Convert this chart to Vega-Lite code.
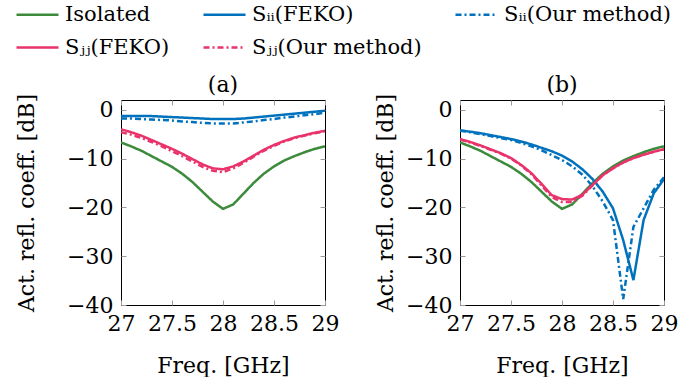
{
  "$schema": "https://vega.github.io/schema/vega-lite/v6.json",
  "background": "white",
  "padding": {"left": 15, "top": -8, "right": 0, "bottom": 0},
  "config": {
    "font": "DejaVu Serif",
    "view": {"stroke": "black", "strokeWidth": 1},
    "title": {"fontSize": 22, "fontWeight": "normal", "font": "DejaVu Serif", "offset": -4, "color": "black"},
    "axis": {"labelFontSize": 22, "titleFontSize": 22, "titleFontWeight": "normal", "labelColor": "black", "titleColor": "black", "domain": false, "grid": false, "tickColor": "#9a9a9a", "tickSize": -5, "labelPadding": 13, "labelOverlap": false, "labelFlush": false, "labelFont": "DejaVu Serif", "titleFont": "DejaVu Serif"},
    "axisX": {"titlePadding": 21},
    "axisY": {"titlePadding": 28}
  },
  "datasets": {
    "d": [
      {"p":"a","s":"Isolated","f":27.0,"v":-6.7},{"p":"a","s":"Isolated","f":27.1,"v":-7.5},{"p":"a","s":"Isolated","f":27.2,"v":-8.4},{"p":"a","s":"Isolated","f":27.3,"v":-9.5},{"p":"a","s":"Isolated","f":27.4,"v":-10.6},{"p":"a","s":"Isolated","f":27.5,"v":-11.7},{"p":"a","s":"Isolated","f":27.6,"v":-13.1},{"p":"a","s":"Isolated","f":27.7,"v":-14.8},{"p":"a","s":"Isolated","f":27.8,"v":-16.8},{"p":"a","s":"Isolated","f":27.9,"v":-18.8},{"p":"a","s":"Isolated","f":28.0,"v":-20.3},{"p":"a","s":"Isolated","f":28.1,"v":-19.4},{"p":"a","s":"Isolated","f":28.2,"v":-17.2},{"p":"a","s":"Isolated","f":28.3,"v":-15.0},{"p":"a","s":"Isolated","f":28.4,"v":-13.1},{"p":"a","s":"Isolated","f":28.5,"v":-11.6},{"p":"a","s":"Isolated","f":28.6,"v":-10.4},{"p":"a","s":"Isolated","f":28.7,"v":-9.5},{"p":"a","s":"Isolated","f":28.8,"v":-8.7},{"p":"a","s":"Isolated","f":28.9,"v":-8.0},{"p":"a","s":"Isolated","f":29.0,"v":-7.5},
      {"p":"a","s":"Sᵢᵢ(FEKO)","f":27.0,"v":-1.3},{"p":"a","s":"Sᵢᵢ(FEKO)","f":27.1,"v":-1.3},{"p":"a","s":"Sᵢᵢ(FEKO)","f":27.2,"v":-1.3},{"p":"a","s":"Sᵢᵢ(FEKO)","f":27.3,"v":-1.3},{"p":"a","s":"Sᵢᵢ(FEKO)","f":27.4,"v":-1.4},{"p":"a","s":"Sᵢᵢ(FEKO)","f":27.5,"v":-1.5},{"p":"a","s":"Sᵢᵢ(FEKO)","f":27.6,"v":-1.6},{"p":"a","s":"Sᵢᵢ(FEKO)","f":27.7,"v":-1.7},{"p":"a","s":"Sᵢᵢ(FEKO)","f":27.8,"v":-1.8},{"p":"a","s":"Sᵢᵢ(FEKO)","f":27.9,"v":-1.9},{"p":"a","s":"Sᵢᵢ(FEKO)","f":28.0,"v":-1.9},{"p":"a","s":"Sᵢᵢ(FEKO)","f":28.1,"v":-1.9},{"p":"a","s":"Sᵢᵢ(FEKO)","f":28.2,"v":-1.8},{"p":"a","s":"Sᵢᵢ(FEKO)","f":28.3,"v":-1.6},{"p":"a","s":"Sᵢᵢ(FEKO)","f":28.4,"v":-1.4},{"p":"a","s":"Sᵢᵢ(FEKO)","f":28.5,"v":-1.2},{"p":"a","s":"Sᵢᵢ(FEKO)","f":28.6,"v":-1.0},{"p":"a","s":"Sᵢᵢ(FEKO)","f":28.7,"v":-0.8},{"p":"a","s":"Sᵢᵢ(FEKO)","f":28.8,"v":-0.6},{"p":"a","s":"Sᵢᵢ(FEKO)","f":28.9,"v":-0.4},{"p":"a","s":"Sᵢᵢ(FEKO)","f":29.0,"v":-0.2},
      {"p":"a","s":"Sᵢᵢ(Our method)","f":27.0,"v":-1.8},{"p":"a","s":"Sᵢᵢ(Our method)","f":27.1,"v":-1.8},{"p":"a","s":"Sᵢᵢ(Our method)","f":27.2,"v":-1.9},{"p":"a","s":"Sᵢᵢ(Our method)","f":27.3,"v":-2.0},{"p":"a","s":"Sᵢᵢ(Our method)","f":27.4,"v":-2.1},{"p":"a","s":"Sᵢᵢ(Our method)","f":27.5,"v":-2.2},{"p":"a","s":"Sᵢᵢ(Our method)","f":27.6,"v":-2.4},{"p":"a","s":"Sᵢᵢ(Our method)","f":27.7,"v":-2.5},{"p":"a","s":"Sᵢᵢ(Our method)","f":27.8,"v":-2.7},{"p":"a","s":"Sᵢᵢ(Our method)","f":27.9,"v":-2.8},{"p":"a","s":"Sᵢᵢ(Our method)","f":28.0,"v":-2.8},{"p":"a","s":"Sᵢᵢ(Our method)","f":28.1,"v":-2.8},{"p":"a","s":"Sᵢᵢ(Our method)","f":28.2,"v":-2.6},{"p":"a","s":"Sᵢᵢ(Our method)","f":28.3,"v":-2.4},{"p":"a","s":"Sᵢᵢ(Our method)","f":28.4,"v":-2.1},{"p":"a","s":"Sᵢᵢ(Our method)","f":28.5,"v":-1.9},{"p":"a","s":"Sᵢᵢ(Our method)","f":28.6,"v":-1.6},{"p":"a","s":"Sᵢᵢ(Our method)","f":28.7,"v":-1.4},{"p":"a","s":"Sᵢᵢ(Our method)","f":28.8,"v":-1.1},{"p":"a","s":"Sᵢᵢ(Our method)","f":28.9,"v":-0.9},{"p":"a","s":"Sᵢᵢ(Our method)","f":29.0,"v":-0.6},
      {"p":"a","s":"Sⱼⱼ(FEKO)","f":27.0,"v":-4.0},{"p":"a","s":"Sⱼⱼ(FEKO)","f":27.1,"v":-4.6},{"p":"a","s":"Sⱼⱼ(FEKO)","f":27.2,"v":-5.3},{"p":"a","s":"Sⱼⱼ(FEKO)","f":27.3,"v":-6.2},{"p":"a","s":"Sⱼⱼ(FEKO)","f":27.4,"v":-7.1},{"p":"a","s":"Sⱼⱼ(FEKO)","f":27.5,"v":-8.0},{"p":"a","s":"Sⱼⱼ(FEKO)","f":27.6,"v":-9.0},{"p":"a","s":"Sⱼⱼ(FEKO)","f":27.7,"v":-10.1},{"p":"a","s":"Sⱼⱼ(FEKO)","f":27.8,"v":-11.2},{"p":"a","s":"Sⱼⱼ(FEKO)","f":27.9,"v":-12.0},{"p":"a","s":"Sⱼⱼ(FEKO)","f":28.0,"v":-12.2},{"p":"a","s":"Sⱼⱼ(FEKO)","f":28.1,"v":-11.6},{"p":"a","s":"Sⱼⱼ(FEKO)","f":28.2,"v":-10.6},{"p":"a","s":"Sⱼⱼ(FEKO)","f":28.3,"v":-9.4},{"p":"a","s":"Sⱼⱼ(FEKO)","f":28.4,"v":-8.2},{"p":"a","s":"Sⱼⱼ(FEKO)","f":28.5,"v":-7.2},{"p":"a","s":"Sⱼⱼ(FEKO)","f":28.6,"v":-6.4},{"p":"a","s":"Sⱼⱼ(FEKO)","f":28.7,"v":-5.7},{"p":"a","s":"Sⱼⱼ(FEKO)","f":28.8,"v":-5.2},{"p":"a","s":"Sⱼⱼ(FEKO)","f":28.9,"v":-4.7},{"p":"a","s":"Sⱼⱼ(FEKO)","f":29.0,"v":-4.3},
      {"p":"a","s":"Sⱼⱼ(Our method)","f":27.0,"v":-4.6},{"p":"a","s":"Sⱼⱼ(Our method)","f":27.1,"v":-5.1},{"p":"a","s":"Sⱼⱼ(Our method)","f":27.2,"v":-5.8},{"p":"a","s":"Sⱼⱼ(Our method)","f":27.3,"v":-6.6},{"p":"a","s":"Sⱼⱼ(Our method)","f":27.4,"v":-7.5},{"p":"a","s":"Sⱼⱼ(Our method)","f":27.5,"v":-8.5},{"p":"a","s":"Sⱼⱼ(Our method)","f":27.6,"v":-9.5},{"p":"a","s":"Sⱼⱼ(Our method)","f":27.7,"v":-10.6},{"p":"a","s":"Sⱼⱼ(Our method)","f":27.8,"v":-11.7},{"p":"a","s":"Sⱼⱼ(Our method)","f":27.9,"v":-12.5},{"p":"a","s":"Sⱼⱼ(Our method)","f":28.0,"v":-12.8},{"p":"a","s":"Sⱼⱼ(Our method)","f":28.1,"v":-12.0},{"p":"a","s":"Sⱼⱼ(Our method)","f":28.2,"v":-10.9},{"p":"a","s":"Sⱼⱼ(Our method)","f":28.3,"v":-9.6},{"p":"a","s":"Sⱼⱼ(Our method)","f":28.4,"v":-8.4},{"p":"a","s":"Sⱼⱼ(Our method)","f":28.5,"v":-7.4},{"p":"a","s":"Sⱼⱼ(Our method)","f":28.6,"v":-6.5},{"p":"a","s":"Sⱼⱼ(Our method)","f":28.7,"v":-5.8},{"p":"a","s":"Sⱼⱼ(Our method)","f":28.8,"v":-5.3},{"p":"a","s":"Sⱼⱼ(Our method)","f":28.9,"v":-4.8},{"p":"a","s":"Sⱼⱼ(Our method)","f":29.0,"v":-4.4},
      {"p":"b","s":"Isolated","f":27.0,"v":-6.7},{"p":"b","s":"Isolated","f":27.1,"v":-7.5},{"p":"b","s":"Isolated","f":27.2,"v":-8.4},{"p":"b","s":"Isolated","f":27.3,"v":-9.5},{"p":"b","s":"Isolated","f":27.4,"v":-10.6},{"p":"b","s":"Isolated","f":27.5,"v":-11.7},{"p":"b","s":"Isolated","f":27.6,"v":-13.1},{"p":"b","s":"Isolated","f":27.7,"v":-14.8},{"p":"b","s":"Isolated","f":27.8,"v":-16.8},{"p":"b","s":"Isolated","f":27.9,"v":-18.8},{"p":"b","s":"Isolated","f":28.0,"v":-20.3},{"p":"b","s":"Isolated","f":28.1,"v":-19.4},{"p":"b","s":"Isolated","f":28.2,"v":-17.2},{"p":"b","s":"Isolated","f":28.3,"v":-15.0},{"p":"b","s":"Isolated","f":28.4,"v":-13.1},{"p":"b","s":"Isolated","f":28.5,"v":-11.6},{"p":"b","s":"Isolated","f":28.6,"v":-10.4},{"p":"b","s":"Isolated","f":28.7,"v":-9.5},{"p":"b","s":"Isolated","f":28.8,"v":-8.7},{"p":"b","s":"Isolated","f":28.9,"v":-8.0},{"p":"b","s":"Isolated","f":29.0,"v":-7.5},
      {"p":"b","s":"Sᵢᵢ(FEKO)","f":27.0,"v":-4.2},{"p":"b","s":"Sᵢᵢ(FEKO)","f":27.1,"v":-4.5},{"p":"b","s":"Sᵢᵢ(FEKO)","f":27.2,"v":-4.8},{"p":"b","s":"Sᵢᵢ(FEKO)","f":27.3,"v":-5.2},{"p":"b","s":"Sᵢᵢ(FEKO)","f":27.4,"v":-5.6},{"p":"b","s":"Sᵢᵢ(FEKO)","f":27.5,"v":-6.0},{"p":"b","s":"Sᵢᵢ(FEKO)","f":27.6,"v":-6.5},{"p":"b","s":"Sᵢᵢ(FEKO)","f":27.7,"v":-7.1},{"p":"b","s":"Sᵢᵢ(FEKO)","f":27.8,"v":-7.8},{"p":"b","s":"Sᵢᵢ(FEKO)","f":27.9,"v":-8.5},{"p":"b","s":"Sᵢᵢ(FEKO)","f":28.0,"v":-9.4},{"p":"b","s":"Sᵢᵢ(FEKO)","f":28.1,"v":-10.6},{"p":"b","s":"Sᵢᵢ(FEKO)","f":28.2,"v":-12.2},{"p":"b","s":"Sᵢᵢ(FEKO)","f":28.3,"v":-14.2},{"p":"b","s":"Sᵢᵢ(FEKO)","f":28.4,"v":-16.8},{"p":"b","s":"Sᵢᵢ(FEKO)","f":28.5,"v":-20.2},{"p":"b","s":"Sᵢᵢ(FEKO)","f":28.6,"v":-26.7},{"p":"b","s":"Sᵢᵢ(FEKO)","f":28.7,"v":-34.9},{"p":"b","s":"Sᵢᵢ(FEKO)","f":28.8,"v":-22.6},{"p":"b","s":"Sᵢᵢ(FEKO)","f":28.9,"v":-17.1},{"p":"b","s":"Sᵢᵢ(FEKO)","f":29.0,"v":-14.2},
      {"p":"b","s":"Sᵢᵢ(Our method)","f":27.0,"v":-4.3},{"p":"b","s":"Sᵢᵢ(Our method)","f":27.1,"v":-4.6},{"p":"b","s":"Sᵢᵢ(Our method)","f":27.2,"v":-5.0},{"p":"b","s":"Sᵢᵢ(Our method)","f":27.3,"v":-5.4},{"p":"b","s":"Sᵢᵢ(Our method)","f":27.4,"v":-5.8},{"p":"b","s":"Sᵢᵢ(Our method)","f":27.5,"v":-6.2},{"p":"b","s":"Sᵢᵢ(Our method)","f":27.6,"v":-6.8},{"p":"b","s":"Sᵢᵢ(Our method)","f":27.7,"v":-7.5},{"p":"b","s":"Sᵢᵢ(Our method)","f":27.8,"v":-8.3},{"p":"b","s":"Sᵢᵢ(Our method)","f":27.9,"v":-9.3},{"p":"b","s":"Sᵢᵢ(Our method)","f":28.0,"v":-10.3},{"p":"b","s":"Sᵢᵢ(Our method)","f":28.1,"v":-11.6},{"p":"b","s":"Sᵢᵢ(Our method)","f":28.2,"v":-13.3},{"p":"b","s":"Sᵢᵢ(Our method)","f":28.3,"v":-15.7},{"p":"b","s":"Sᵢᵢ(Our method)","f":28.4,"v":-18.8},{"p":"b","s":"Sᵢᵢ(Our method)","f":28.5,"v":-22.6},{"p":"b","s":"Sᵢᵢ(Our method)","f":28.6,"v":-38.8},{"p":"b","s":"Sᵢᵢ(Our method)","f":28.7,"v":-24.0},{"p":"b","s":"Sᵢᵢ(Our method)","f":28.8,"v":-20.2},{"p":"b","s":"Sᵢᵢ(Our method)","f":28.9,"v":-16.4},{"p":"b","s":"Sᵢᵢ(Our method)","f":29.0,"v":-13.8},
      {"p":"b","s":"Sⱼⱼ(FEKO)","f":27.0,"v":-6.0},{"p":"b","s":"Sⱼⱼ(FEKO)","f":27.1,"v":-6.6},{"p":"b","s":"Sⱼⱼ(FEKO)","f":27.2,"v":-7.3},{"p":"b","s":"Sⱼⱼ(FEKO)","f":27.3,"v":-8.1},{"p":"b","s":"Sⱼⱼ(FEKO)","f":27.4,"v":-8.9},{"p":"b","s":"Sⱼⱼ(FEKO)","f":27.5,"v":-9.9},{"p":"b","s":"Sⱼⱼ(FEKO)","f":27.6,"v":-11.3},{"p":"b","s":"Sⱼⱼ(FEKO)","f":27.7,"v":-13.0},{"p":"b","s":"Sⱼⱼ(FEKO)","f":27.8,"v":-15.2},{"p":"b","s":"Sⱼⱼ(FEKO)","f":27.9,"v":-17.5},{"p":"b","s":"Sⱼⱼ(FEKO)","f":28.0,"v":-18.3},{"p":"b","s":"Sⱼⱼ(FEKO)","f":28.1,"v":-18.4},{"p":"b","s":"Sⱼⱼ(FEKO)","f":28.2,"v":-17.4},{"p":"b","s":"Sⱼⱼ(FEKO)","f":28.3,"v":-15.4},{"p":"b","s":"Sⱼⱼ(FEKO)","f":28.4,"v":-13.4},{"p":"b","s":"Sⱼⱼ(FEKO)","f":28.5,"v":-12.0},{"p":"b","s":"Sⱼⱼ(FEKO)","f":28.6,"v":-10.8},{"p":"b","s":"Sⱼⱼ(FEKO)","f":28.7,"v":-9.9},{"p":"b","s":"Sⱼⱼ(FEKO)","f":28.8,"v":-9.2},{"p":"b","s":"Sⱼⱼ(FEKO)","f":28.9,"v":-8.6},{"p":"b","s":"Sⱼⱼ(FEKO)","f":29.0,"v":-8.1},
      {"p":"b","s":"Sⱼⱼ(Our method)","f":27.0,"v":-6.1},{"p":"b","s":"Sⱼⱼ(Our method)","f":27.1,"v":-6.7},{"p":"b","s":"Sⱼⱼ(Our method)","f":27.2,"v":-7.4},{"p":"b","s":"Sⱼⱼ(Our method)","f":27.3,"v":-8.2},{"p":"b","s":"Sⱼⱼ(Our method)","f":27.4,"v":-9.0},{"p":"b","s":"Sⱼⱼ(Our method)","f":27.5,"v":-10.0},{"p":"b","s":"Sⱼⱼ(Our method)","f":27.6,"v":-11.4},{"p":"b","s":"Sⱼⱼ(Our method)","f":27.7,"v":-13.2},{"p":"b","s":"Sⱼⱼ(Our method)","f":27.8,"v":-15.5},{"p":"b","s":"Sⱼⱼ(Our method)","f":27.9,"v":-17.9},{"p":"b","s":"Sⱼⱼ(Our method)","f":28.0,"v":-18.9},{"p":"b","s":"Sⱼⱼ(Our method)","f":28.1,"v":-18.9},{"p":"b","s":"Sⱼⱼ(Our method)","f":28.2,"v":-17.6},{"p":"b","s":"Sⱼⱼ(Our method)","f":28.3,"v":-15.5},{"p":"b","s":"Sⱼⱼ(Our method)","f":28.4,"v":-13.4},{"p":"b","s":"Sⱼⱼ(Our method)","f":28.5,"v":-12.0},{"p":"b","s":"Sⱼⱼ(Our method)","f":28.6,"v":-10.8},{"p":"b","s":"Sⱼⱼ(Our method)","f":28.7,"v":-9.9},{"p":"b","s":"Sⱼⱼ(Our method)","f":28.8,"v":-9.2},{"p":"b","s":"Sⱼⱼ(Our method)","f":28.9,"v":-8.6},{"p":"b","s":"Sⱼⱼ(Our method)","f":29.0,"v":-8.1}
    ]
  },
  "data": {"name": "d"},
  "spacing": 34,
  "hconcat": [
    {
      "width": 204, "height": 205,
      "title": {"text": "(a)"},
      "transform": [{"filter": "datum.p === 'a'"}],
      "layer": [
        {
          "mark": {"type": "line", "strokeWidth": 2.5, "clip": true},
          "encoding": {
            "x": {"field": "f", "type": "quantitative", "scale": {"domain": [27, 29], "nice": false, "zero": false}, "axis": {"values": [27, 27.5, 28, 28.5, 29], "format": "~f", "title": "Freq. [GHz]"}},
            "y": {"field": "v", "type": "quantitative", "scale": {"domain": [-40, 2], "nice": false}, "axis": {"values": [0, -10, -20, -30, -40], "format": "d", "title": "Act. refl. coeff. [dB]", "titlePadding": 28}},
            "color": {"field": "s", "type": "nominal", "scale": {"domain": ["Isolated", "Sᵢᵢ(FEKO)", "Sᵢᵢ(Our method)", "Sⱼⱼ(FEKO)", "Sⱼⱼ(Our method)"], "range": ["#3C8A3C", "#0072BD", "#0072BD", "#E8336B", "#E8336B"]},
              "legend": {"orient": "none", "direction": "horizontal", "legendX": -106, "legendY": -108, "columns": 3, "title": null, "symbolType": "stroke", "symbolSize": 1764, "symbolStrokeWidth": 2.5, "labelFontSize": 21, "labelFont": "DejaVu Serif", "labelColor": "black", "labelOffset": 5, "columnPadding": 28, "rowPadding": -15, "labelLimit": 400, "padding": 0}},
            "strokeDash": {"field": "s", "type": "nominal", "scale": {"domain": ["Isolated", "Sᵢᵢ(FEKO)", "Sᵢᵢ(Our method)", "Sⱼⱼ(FEKO)", "Sⱼⱼ(Our method)"], "range": [[1, 0], [1, 0], [6, 3, 2, 3], [1, 0], [6, 3, 2, 3]]}}
          }
        },
        {
          "mark": {"type": "line", "opacity": 0},
          "encoding": {
            "x": {"field": "f", "type": "quantitative", "axis": {"orient": "top", "values": [27, 27.5, 28, 28.5, 29], "labels": false, "title": null}},
            "y": {"field": "v", "type": "quantitative", "axis": {"orient": "right", "values": [0, -10, -20, -30, -40], "labels": false, "title": null}},
            "detail": {"field": "s"}
          }
        }
      ],
      "resolve": {"axis": {"x": "independent", "y": "independent"}}
    },
    {
      "width": 204, "height": 205,
      "title": {"text": "(b)"},
      "transform": [{"filter": "datum.p === 'b'"}],
      "layer": [
        {
          "mark": {"type": "line", "strokeWidth": 2.5, "clip": true},
          "encoding": {
            "x": {"field": "f", "type": "quantitative", "scale": {"domain": [27, 29], "nice": false, "zero": false}, "axis": {"values": [27, 27.5, 28, 28.5, 29], "format": "~f", "title": "Freq. [GHz]"}},
            "y": {"field": "v", "type": "quantitative", "scale": {"domain": [-40, 2], "nice": false}, "axis": {"values": [0, -10, -20, -30, -40], "format": "d", "title": "Act. refl. coeff. [dB]", "titlePadding": 8}},
            "color": {"field": "s", "type": "nominal", "scale": {"domain": ["Isolated", "Sᵢᵢ(FEKO)", "Sᵢᵢ(Our method)", "Sⱼⱼ(FEKO)", "Sⱼⱼ(Our method)"], "range": ["#3C8A3C", "#0072BD", "#0072BD", "#E8336B", "#E8336B"]}},
            "strokeDash": {"field": "s", "type": "nominal", "scale": {"domain": ["Isolated", "Sᵢᵢ(FEKO)", "Sᵢᵢ(Our method)", "Sⱼⱼ(FEKO)", "Sⱼⱼ(Our method)"], "range": [[1, 0], [1, 0], [6, 3, 2, 3], [1, 0], [6, 3, 2, 3]]}}
          }
        },
        {
          "mark": {"type": "line", "opacity": 0},
          "encoding": {
            "x": {"field": "f", "type": "quantitative", "axis": {"orient": "top", "values": [27, 27.5, 28, 28.5, 29], "labels": false, "title": null}},
            "y": {"field": "v", "type": "quantitative", "axis": {"orient": "right", "values": [0, -10, -20, -30, -40], "labels": false, "title": null}},
            "detail": {"field": "s"}
          }
        }
      ],
      "resolve": {"axis": {"x": "independent", "y": "independent"}}
    }
  ]
}
